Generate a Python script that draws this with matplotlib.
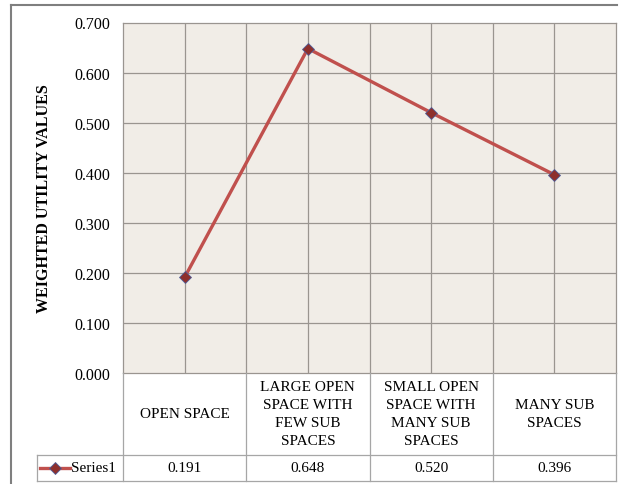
import matplotlib.pyplot as plt
from matplotlib.lines import Line2D

CATEGORIES = [
    "OPEN SPACE",
    "LARGE OPEN\nSPACE WITH\nFEW SUB\nSPACES",
    "SMALL OPEN\nSPACE WITH\nMANY SUB\nSPACES",
    "MANY SUB\nSPACES",
]
SERIES_NAME = "Series1"
VALUES = [0.191, 0.648, 0.520, 0.396]
Y_TICKS = [0.0, 0.1, 0.2, 0.3, 0.4, 0.5, 0.6, 0.7]

W, H = 621, 485
LINE_RED = "#c0504d"
MARKER_RED = "#8e2f2c"
GRID = "#9a9590"
TABLE_LINE = "#a6a6a6"

plt.rcParams["font.family"] = ["Liberation Serif", "DejaVu Serif"]

fig = plt.figure(figsize=(W / 100, H / 100), dpi=100)


def px_box(x0, y0, x1, y1):
    # pixel box (top-left origin) -> figure fraction rect
    return [x0 / W, 1 - y1 / H, (x1 - x0) / W, (y1 - y0) / H]


ax = fig.add_axes(px_box(123, 23.5, 616, 374))
ax.set_facecolor("#f1ede7")
xs = [i + 0.5 for i in range(len(VALUES))]

ax.set_xlim(0, len(VALUES))
ax.set_ylim(0, 0.7)
ax.set_yticks(Y_TICKS)
ax.set_yticklabels([f"{v:.3f}" for v in Y_TICKS], fontsize=11.5)
ax.set_xticks([])
ax.tick_params(axis="y", length=0, pad=9)

for y in Y_TICKS[1:-1]:
    ax.axhline(y, color=GRID, lw=0.9, zorder=1)
for k in range(1, 2 * len(VALUES)):
    ax.axvline(k / 2, color=GRID, lw=0.9, zorder=1)
for side in ax.spines.values():
    side.set_color(GRID)
    side.set_linewidth(0.9)

ax.plot(xs, VALUES, color=LINE_RED, lw=2.4, marker="D", ms=6.5,
        markerfacecolor=MARKER_RED, markeredgecolor="#4f5f9a",
        markeredgewidth=0.6, zorder=3)

ax.set_ylabel("WEIGHTED UTILITY VALUES", fontsize=11.5, fontweight="bold",
              labelpad=16)

# data table underneath the plot, in pixel units vertically
tab = fig.add_axes(px_box(123, 374, 616, 482))
tab.set_xlim(0, len(VALUES))
tab.set_ylim(0, 108)
tab.axis("off")
px = len(VALUES) / (616 - 123)  # data units per pixel horizontally
left_edge = -(123 - 37) * px

for k in range(len(VALUES) + 1):
    tab.plot([k, k], [0, 108], color=TABLE_LINE, lw=0.9, clip_on=False)
tab.plot([left_edge, len(VALUES)], [26, 26], color=TABLE_LINE, lw=0.9, clip_on=False)
tab.plot([left_edge, len(VALUES)], [0, 0], color=TABLE_LINE, lw=0.9, clip_on=False)
tab.plot([left_edge, left_edge], [0, 26], color=TABLE_LINE, lw=0.9, clip_on=False)

for x, label, val in zip(xs, CATEGORIES, VALUES):
    tab.text(x, 67, label, ha="center", va="center", fontsize=11,
             linespacing=1.5)
    tab.text(x, 13, f"{val:.3f}", ha="center", va="center", fontsize=11)

key_x0 = -(123 - 40) * px
key_x1 = -(123 - 70) * px
tab.plot([key_x0, key_x1], [13, 13], color=LINE_RED, lw=2.4, clip_on=False)
tab.plot([(key_x0 + key_x1) / 2], [13], marker="D", ms=6, color=MARKER_RED,
         markeredgecolor="#4f5f9a", markeredgewidth=0.6, clip_on=False)
tab.text(-(123 - 71) * px, 13, SERIES_NAME, ha="left", va="center", fontsize=11)

# chart frame
fig.add_artist(Line2D([11 / W, 11 / W], [0, 1 - 6 / H], color="#7f7f7f",
                      lw=1.5, transform=fig.transFigure))
fig.add_artist(Line2D([11 / W, 617 / W], [1 - 6 / H, 1 - 6 / H], color="#7f7f7f",
                      lw=1.5, transform=fig.transFigure))

fig.savefig("out.png", dpi=100, facecolor="white")
